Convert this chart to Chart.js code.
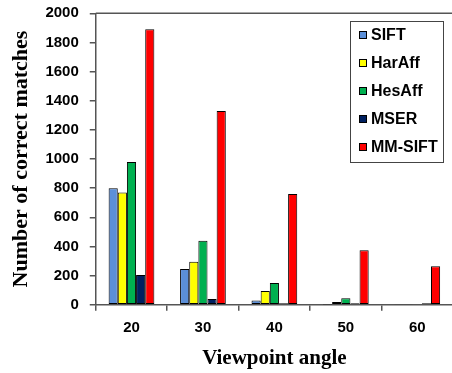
<!DOCTYPE html>
<html>
<head>
<meta charset="utf-8">
<script src="https://cdn.jsdelivr.net/npm/chart.js@4"></script>
<style>
  html, body { margin: 0; padding: 0; background: #fff; overflow: hidden; }
  #wrap { width: 456px; height: 373px; }
</style>
</head>
<body>
<div id="wrap"><canvas id="chart"></canvas></div>
<script>
const angles = ['20', '30', '40', '50', '60'];
const methods = ['SIFT', 'HarAff', 'HesAff', 'MSER', 'MM-SIFT'];
const colors = ['#5b8fd8', '#ffff00', '#00b050', '#002060', '#ff0000'];

const sift = [800, 245, 30, 2, 3];
const harAff = [770, 295, 95, 20, 3];
const hesAff = [980, 440, 150, 45, 5];
const mser = [205, 40, 10, 10, 10];
const mmSift = [1890, 1330, 760, 375, 265];

const yTicks = [0, 200, 400, 600, 800, 1000, 1200, 1400, 1600, 1800, 2000];

const series = [sift, harAff, hesAff, mser, mmSift];
const axisColor = '#555';

// top edge of the plot box + boxed legend on the right
const frameAndLegend = {
  id: 'frameAndLegend',
  afterDraw(chart) {
    const { ctx, chartArea } = chart;
    ctx.save();
    ctx.strokeStyle = axisColor;
    ctx.lineWidth = 1.5;
    ctx.beginPath();
    ctx.moveTo(chartArea.left, chartArea.top);
    ctx.lineTo(chartArea.right, chartArea.top);
    ctx.stroke();

    const bx = 350, by = 21, bw = 93, bh = 141;
    ctx.fillStyle = '#fff';
    ctx.fillRect(bx, by, bw, bh);
    ctx.strokeStyle = '#444';
    ctx.lineWidth = 1;
    ctx.strokeRect(bx + 0.5, by + 0.5, bw, bh);

    ctx.font = 'bold 16px "Liberation Sans", Arial, sans-serif';
    ctx.textBaseline = 'middle';
    chart.data.datasets.forEach((ds, i) => {
      const cy = 35 + i * 28;
      ctx.fillStyle = ds.backgroundColor;
      ctx.fillRect(359, cy - 4, 8, 8);
      ctx.strokeStyle = '#000';
      ctx.strokeRect(359.5, cy - 3.5, 7, 7);
      ctx.fillStyle = '#000';
      ctx.fillText(ds.label, 371, cy + 1);
    });
    ctx.restore();
  }
};

new Chart(document.getElementById('chart').getContext('2d'), {
  type: 'bar',
  data: {
    labels: angles,
    datasets: methods.map((m, i) => ({
      label: m,
      data: series[i],
      backgroundColor: colors[i],
      borderColor: '#000',
      borderWidth: 1,
      borderSkipped: false,
      categoryPercentage: 0.64,
      barPercentage: 1.0
    }))
  },
  options: {
    responsive: true,
    maintainAspectRatio: false,
    animation: false,
    layout: { padding: { left: 8, right: 3, top: 13, bottom: 2 } },
    plugins: {
      legend: { display: false },
      tooltip: { enabled: false }
    },
    scales: {
      x: {
        offset: true,
        grid: { offset: true, drawOnChartArea: false, color: axisColor, lineWidth: 1.5, tickLength: 6 },
        border: { color: axisColor, width: 1.5 },
        ticks: { color: '#000', padding: 8, font: { family: '"Liberation Sans", Arial, sans-serif', size: 15, weight: 'bold' } },
        title: {
          display: true,
          text: 'Viewpoint angle',
          color: '#000',
          padding: { top: 1, bottom: 0 },
          font: { family: '"Liberation Serif", "Times New Roman", serif', size: 21, weight: 'bold' }
        }
      },
      y: {
        min: 0,
        max: 2000,
        afterBuildTicks(axis) { axis.ticks = yTicks.map(v => ({ value: v })); },
        grid: { drawOnChartArea: false, color: axisColor, lineWidth: 1.5, tickLength: 6 },
        border: { color: axisColor, width: 1.5 },
        ticks: {
          color: '#000',
          padding: 11,
          callback: v => String(v),
          font: { family: '"Liberation Sans", Arial, sans-serif', size: 15, weight: 'bold', lineHeight: 0.3 }
        },
        title: {
          display: true,
          text: 'Number of correct matches',
          color: '#000',
          padding: { top: 0, bottom: 0 },
          font: { family: '"Liberation Serif", "Times New Roman", serif', size: 22, weight: 'bold' }
        }
      }
    }
  },
  plugins: [frameAndLegend]
});
</script>
</body>
</html>
